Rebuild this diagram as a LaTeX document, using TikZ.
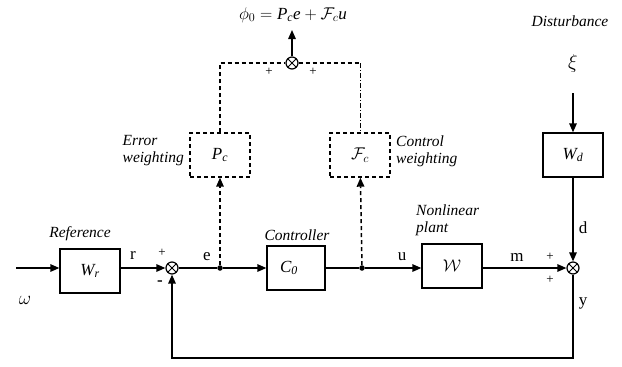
\RequirePackage{fix-cm}
\documentclass[tikz,border=0pt]{standalone}
\usepackage{fontspec}
\setmainfont{Liberation Serif}
\usetikzlibrary{arrows.meta}
\begin{document}
\begin{tikzpicture}[x=1pt,y=-1pt,
  blk/.style={draw, line width=1.3pt, minimum width=60pt, minimum height=44pt, inner sep=0pt, font=\fontsize{17}{19}\selectfont},
  wblk/.style={draw, line width=1.4pt, dash pattern=on 4pt off 3pt, minimum width=60pt, minimum height=44pt, inner sep=0pt, font=\fontsize{17}{19}\selectfont},
  sumj/.style={circle, draw, line width=1.2pt, minimum size=12pt, inner sep=0pt, fill=white,
    path picture={\draw[line width=1pt] (path picture bounding box.north west) -- (path picture bounding box.south east)
      (path picture bounding box.north east) -- (path picture bounding box.south west);}},
  dotn/.style={circle, fill, minimum size=5.5pt, inner sep=0pt},
  sig/.style={line width=1.4pt},
  dline/.style={line width=1.5pt, dash pattern=on 4pt off 3pt},
  ddline/.style={line width=0.9pt, dash pattern=on 5pt off 2pt on 1pt off 2pt},
  arr/.style={-{Triangle[length=9pt,width=7.5pt]}},
  lab/.style={font=\fontsize{17}{19}\selectfont, inner sep=0pt},
  pl/.style={font=\fontsize{13}{14}\selectfont, inner sep=0pt},
  ital/.style={font=\fontsize{15.5}{17}\selectfont\itshape, inner sep=0pt, align=left},
]
\useasboundingbox (0,0) rectangle (622,367);

% main chain
\coordinate (in) at (16,268);
\node[blk] (Wr) at (90,271) {$\mathit{W_r}$};
\node[sumj] (s1) at (172,268) {};
\node[dotn] (de) at (220,268) {};
\node[blk, minimum width=58pt] (C0) at (296,268) {\hspace*{-14pt}$\mathit{C_0}$};
\node[dotn] (du) at (362,268) {};
\node[blk] (W) at (452,266) {$\mathcal{W}$};
\node[sumj] (s2) at (573,268) {};

% disturbance
\node[lab, font=\fontsize{20}{22}\selectfont] (xi) at (573,63) {$\xi$};
\coordinate (xs) at (573,93);
\node[blk] (Wd) at (573,155) {$\mathit{W_d}$};

% weighting
\node[wblk] (Pc) at (220,155) {$\mathit{P_c}$};
\node[wblk] (Fc) at (360,155) {$\mathcal{F}_c$};
\node[sumj] (s0) at (292,63) {};
\coordinate (out) at (292,30);
\coordinate (tl) at (220,63);
\coordinate (tr) at (360,63);
\node[lab] (phi) at (293,15) {$\phi_0 = \mathit{P_c e} + \mathcal{F}_c \mathit{u}$};

% feedback corners
\coordinate (fb1) at (573,358);
\coordinate (fb2) at (172,358);

% connectors
\draw[sig,arr] (in) -- (Wr.west |- in);
\draw[sig,arr] (Wr.east |- s1) -- (s1);
\draw[sig] (s1) -- (de);
\draw[sig,arr] (de) -- (C0);
\draw[sig] (C0) -- (du);
\draw[sig,arr] (du) -- (W.west |- du);
\draw[sig,arr] (W.east |- s2) -- (s2);
\draw[sig,arr] (xs) -- (Wd);
\draw[sig,arr] (Wd) -- (s2);
\draw[sig,arr] (s2.south) -- (fb1) -- (fb2) -- (s1.south);
\draw[dline,arr] (de) -- (Pc);
\draw[dline,arr] (du) -- (Fc);
\draw[dline] (Pc.north) -- (tl) -- (s0);
\draw[line width=1.2pt, dash pattern=on 4pt off 3pt] (s0) -- (tr);
\draw[ddline] (tr) -- (Fc.north);
\draw[sig,arr] (s0) -- (out);

% signal labels
\node[lab] (lr) at (133,255) {r};
\node[lab] (le) at (207,257) {e};
\node[lab] (lu) at (402,257) {u};
\node[lab] (lm) at (517,257) {m};
\node[lab] (ld) at (583,228) {d};
\node[lab] (ly) at (583,303) {y};
\node[lab, font=\fontsize{19}{21}\selectfont] (lw) at (25,300) {$\omega$};

% signs
\node[pl] (p1) at (162,253) {+};
\node[font=\fontsize{17}{19}\selectfont\bfseries, inner sep=0pt] (m1) at (160,283) {-};
\node[pl] (p2) at (550,257) {+};
\node[pl] (p3) at (550,280) {+};
\node[pl] (p4) at (269,72) {+};
\node[pl] (p5) at (313,72) {+};

% descriptive labels
\node[ital] (tref) at (80,234) {Reference};
\node[ital] (tcon) at (297,235) {Controller};
\node[ital] (tdis) at (570,21) {Disturbance};
\node[ital, anchor=east] (terr) at (184,151) {Error\\weighting};
\node[ital, anchor=west] (tctl) at (396,151) {Control\\weighting};
\node[ital, anchor=west] (tnl) at (416,220) {Nonlinear\\plant};
\end{tikzpicture}
\end{document}
